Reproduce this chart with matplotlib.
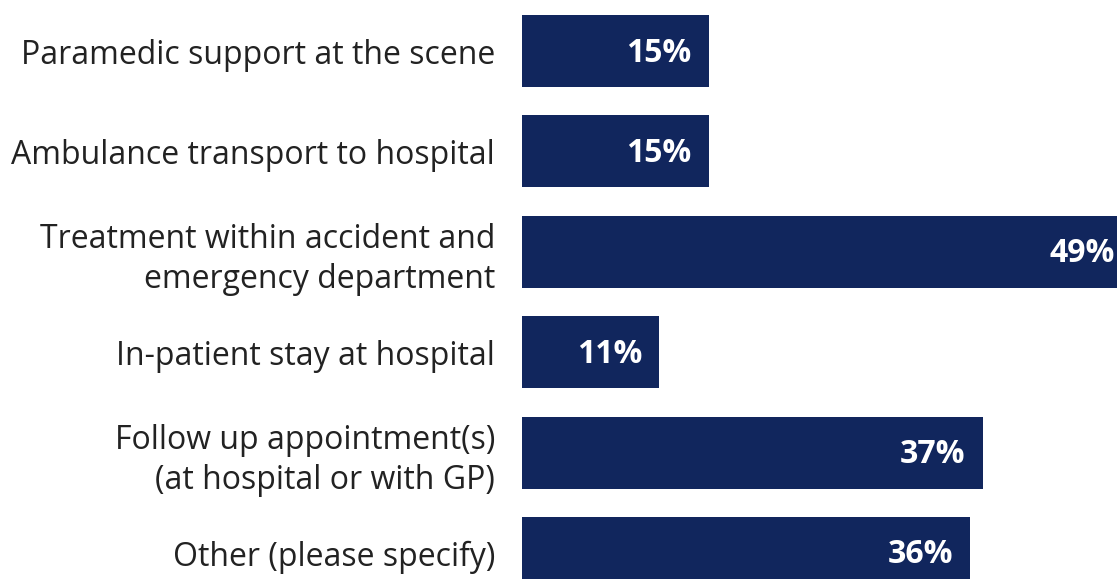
import matplotlib.pyplot as plt

# survey responses - share of respondents per service
labels = ['Paramedic support at the scene',
          'Ambulance transport to hospital',
          'Treatment within accident and\nemergency department',
          'In-patient stay at hospital',
          'Follow up appointment(s)\n(at hospital or with GP)',
          'Other (please specify)']
values = [15, 15, 49, 11, 37, 36]

navy = '#11265d'

plt.rcParams['font.family'] = ['Open Sans', 'DejaVu Sans']

fig = plt.figure(figsize=(11.17, 5.79), dpi=100)
ax = fig.add_axes([522 / 1117, 0, 1 - 522 / 1117, 1])

pos = list(range(len(values)))
ax.barh(pos, values, height=0.717, color=navy)

for p, v in zip(pos, values):
    ax.annotate(str(v) + '%', xy=(v, p), xytext=(-17, -2), textcoords='offset pixels',
                ha='right', va='center', color='white', fontsize=23, fontweight='bold',
                annotation_clip=False)

ax.set_yticks(pos)
ax.set_yticklabels(labels, fontsize=23, color='#222222', linespacing=1.3)
ax.tick_params(axis='y', length=0, pad=19.5)
ax.set_xticks([])
# largest bar runs past the right edge, as in the original
ax.set_xlim(0, 595 / 12.45)
ax.set_ylim(5.259, -0.508)
for s in ax.spines.values():
    s.set_visible(False)

plt.savefig('out.png', dpi=100)
